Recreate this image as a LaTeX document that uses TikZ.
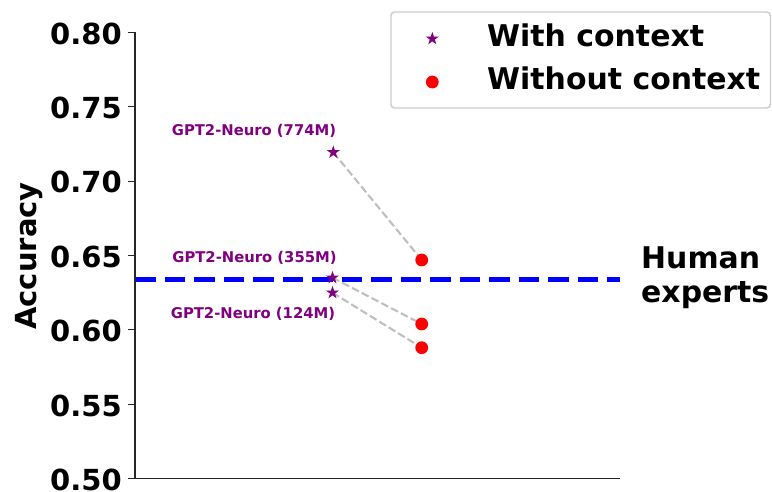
\documentclass[tikz,border=0pt]{standalone}
\usepackage{fontspec}
\setmainfont{DejaVu Sans}
\usetikzlibrary{shapes.geometric,backgrounds}
\definecolor{mplpurple}{RGB}{128,0,128}
\definecolor{mplred}{RGB}{255,0,0}
\definecolor{mplblue}{RGB}{0,0,255}
\definecolor{linkgray}{RGB}{191,191,191}
\definecolor{spinegray}{RGB}{38,38,38}
\definecolor{legedge}{RGB}{204,204,204}
\tikzset{
  big/.style={font=\fontsize{29}{35}\selectfont\bfseries, inner sep=0pt, text=black},
  legtext/.style={font=\fontsize{29.9}{35}\selectfont\bfseries, inner sep=0pt, text=black, anchor=base west},
  ticklab/.style={big, anchor=base east},
  small/.style={font=\fontsize{14.8}{17}\selectfont\bfseries, inner sep=0pt, text=mplpurple, anchor=base},
  starmark/.style={star, star points=5, star point ratio=2.618, minimum size=13.8pt, inner sep=0pt, fill=mplpurple, draw=none},
  dotmark/.style={circle, minimum size=12.8pt, inner sep=0pt, fill=mplred, draw=none},
  link/.style={draw=linkgray, line width=2.1pt, dash pattern=on 7.7pt off 3.3pt},
  spine/.style={draw=spinegray, line width=1.1pt},
}
\begin{document}
\begin{tikzpicture}[x=1pt,y=-1pt]
\useasboundingbox (0,0) rectangle (772,491);
% human experts line
\coordinate (hl) at (135,279.7);
\coordinate (hr) at (620,279.7);
\draw[mplblue, line width=5.5pt, dash pattern=on 20.6pt off 8.9pt] (hl) -- (hr);
% markers
\node[starmark] (s774) at (333.3,152.3) {};
\node[starmark] (s355) at (332.5,277.7) {};
\node[starmark] (s124) at (332.5,292.7) {};
\node[dotmark] (d774) at (421.7,260) {};
\node[dotmark] (d355) at (421.7,324) {};
\node[dotmark] (d124) at (421.7,347.7) {};
\begin{scope}[on background layer]
\draw[link] (s774.center) -- (d774.center);
\draw[link] (s355.center) -- (d355.center);
\draw[link] (s124.center) -- (d124.center);
\end{scope}
% point labels
\node[small] (l774) at (254,135.5) {GPT2-Neuro (774M)};
\node[small] (l355) at (254.5,262) {GPT2-Neuro (355M)};
\node[small] (l124) at (253,318) {GPT2-Neuro (124M)};
% axes
\coordinate (o) at (135,478.7);
\coordinate (ytop) at (135,32.3);
\coordinate (xend) at (620,478.7);
\draw[spine] (ytop) -- (o) -- (xend);
\foreach \v/\y in {0.50/478.7,0.55/404.3,0.60/329.9,0.65/255.5,0.70/181.1,0.75/106.7,0.80/32.3}{
  \draw[spine] (128.3,\y) -- (135,\y);
  \node[ticklab] at (122,\y+11.8) {\v};
}
\node[big, rotate=90, anchor=base] (ylab) at (36,256) {Accuracy};
% human experts text
\node[legtext] (h1) at (641,268.3) {Human};
\node[legtext] (h2) at (641,302) {experts};
% legend
\draw[draw=legedge, fill=white, line width=1.4pt, rounded corners=3.5pt] (391,12) rectangle (770.5,108);
\node[starmark] (lgs) at (432.3,38.7) {};
\node[dotmark] (lgd) at (432.3,82) {};
\node[legtext] (lgt1) at (487,46.5) {With context};
\node[legtext] (lgt2) at (487,89.3) {Without context};
\end{tikzpicture}
\end{document}
